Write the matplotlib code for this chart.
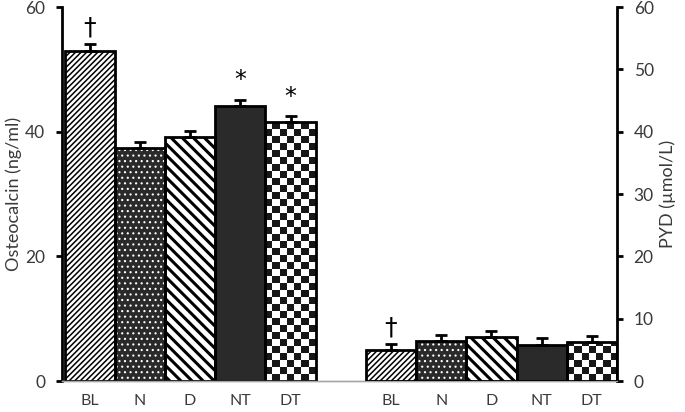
import numpy as np
import matplotlib
matplotlib.use("Agg")
import matplotlib.pyplot as plt

plt.rcParams['font.family'] = ['Lato', 'DejaVu Sans']

groups = ['BL', 'N', 'D', 'NT', 'DT']
osteo = [53.0, 37.4, 39.1, 44.1, 41.5]
osteo_err = [1.0, 1.0, 1.0, 1.0, 1.0]
pyd = [5.0, 6.4, 7.1, 5.8, 6.2]
pyd_err = [0.9, 1.0, 1.0, 1.1, 1.0]
osteo_marks = ['\u2020', '', '', '*', '*']
pyd_marks = ['\u2020', '', '', '', '']

dark = '#2a2a2a'
txt = '#3a3a3a'

fig = plt.figure(figsize=(6.85, 4.12), dpi=100)
ax = fig.add_axes([0.0905, 0.0752, 0.8102, 0.9078])
ax2 = ax.twinx()
ax2.set_position(ax.get_position())


def draw_group(a, xs, vals, errs, marks):
    for i, (x, v) in enumerate(zip(xs, vals)):
        g = groups[i]
        if g == 'BL':
            with plt.rc_context({'hatch.linewidth': 1.1}):
                b = a.bar(x, v, 1.0, color='white', edgecolor='black', hatch='//////', lw=0, zorder=2)
        elif g == 'N':
            with plt.rc_context({'hatch.linewidth': 0.8}):
                b = a.bar(x, v, 1.0, color=dark, edgecolor='white', hatch='...', lw=0, zorder=2)
        elif g == 'D':
            with plt.rc_context({'hatch.linewidth': 2.2}):
                b = a.bar(x, v, 1.0, color='white', edgecolor='black', hatch='\\\\\\', lw=0, zorder=2)
        elif g == 'NT':
            b = a.bar(x, v, 1.0, color=dark, lw=0, zorder=2)
        else:
            b = a.bar(x, v, 1.0, color='white', lw=0, zorder=2)
            nrow = int(np.ceil(v / 1.12))
            chk = (np.add.outer(np.arange(nrow), np.arange(7)) % 2).astype(float)
            im = a.imshow(chk, cmap='gray_r', vmin=0, vmax=1.1, interpolation='nearest',
                          extent=(x - 0.5, x + 0.5, 0, nrow * 1.12), origin='lower',
                          aspect='auto', zorder=2.5)
            im.set_clip_path(b.patches[0])
        # outline
        a.bar(x, v, 1.0, color='none', edgecolor='black', lw=2.0, zorder=3)
        a.errorbar(x, v, yerr=[[0], [errs[i]]], fmt='none', ecolor='black',
                   elinewidth=2.0, capsize=4.5, capthick=2.0, zorder=3)
        if marks[i]:
            size = 17 if marks[i] == '*' else 18
            off = 1.2 if marks[i] == '*' else 0.8
            a.text(x, v + errs[i] + off, marks[i], ha='center', va='bottom',
                   fontsize=size, color='black', family='DejaVu Sans')


x_left = np.arange(5)
x_right = np.arange(5) + 6
draw_group(ax, x_left, osteo, osteo_err, osteo_marks)
draw_group(ax2, x_right, pyd, pyd_err, pyd_marks)

ax.set_xticks(list(x_left) + list(x_right))
ax.set_xticklabels(groups + groups)

for a in (ax, ax2):
    a.set_xlim(-0.55, 10.5)
    a.set_ylim(0, 60)
    a.spines['top'].set_visible(False)
    a.spines['bottom'].set_color('#a6a6a6')
    a.spines['bottom'].set_linewidth(1.0)
ax.tick_params(axis='x', length=0, labelsize=11.5, labelcolor=txt, pad=9)

ax.spines['right'].set_visible(False)
ax.spines['left'].set_linewidth(2.0)
ax.set_yticks([0, 20, 40, 60])
ax.tick_params(axis='y', direction='out', length=4, width=2.0, labelsize=12.5, labelcolor=txt, pad=8)
ax.set_ylabel('Osteocalcin (ng/ml)', fontsize=13, color=txt, labelpad=2)

ax2.spines['left'].set_visible(False)
ax2.spines['right'].set_linewidth(2.0)
ax2.set_yticks(np.arange(0, 61, 10))
ax2.tick_params(axis='y', direction='out', length=4, width=2.0, labelsize=12.5, labelcolor=txt, pad=8)
ax2.set_ylabel('PYD (\u00b5mol/L)', fontsize=13, color=txt, labelpad=4)

fig.savefig('out.png', dpi=100)
